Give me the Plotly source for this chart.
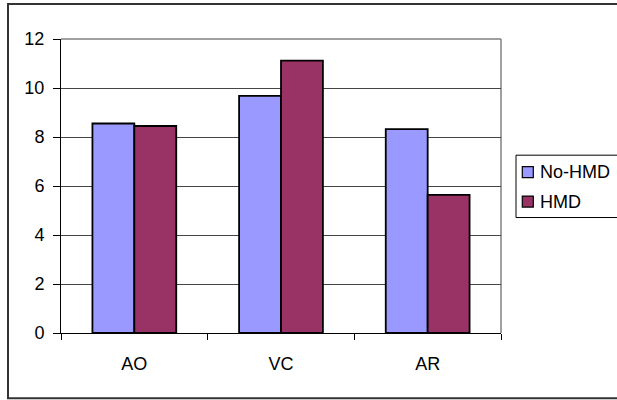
import plotly.graph_objects as go

# Data
categories = ["AO", "VC", "AR"]
series_names = ["No-HMD", "HMD"]
no_hmd = [8.55, 9.68, 8.32]
hmd = [8.45, 11.12, 5.64]
y_ticks = [0, 2, 4, 6, 8, 10, 12]

colors = ["#9999FF", "#993366"]
FONT = "Liberation Sans, Arial, sans-serif"

W, H = 617, 400
L, R, T, B = 61, 116, 39, 66.7
PW, PH = W - L - R, H - T - B


def px_x(px):
    return (px - L) / PW


def px_y(py):
    return (H - B - py) / PH


fig = go.Figure()
for name, vals, col in zip(series_names, [no_hmd, hmd], colors):
    fig.add_trace(go.Bar(
        x=categories, y=vals, name=name,
        marker=dict(color=col, line=dict(color="#000000", width=1.8)),
        showlegend=False,
    ))

shapes = []
# plot-area frame on the top and right sides
shapes.append(dict(type="line", xref="paper", yref="paper", x0=0, x1=1, y0=1, y1=1,
                   line=dict(color="#808080", width=1.5), layer="below"))
shapes.append(dict(type="line", xref="paper", yref="paper", x0=1, x1=1, y0=0, y1=1,
                   line=dict(color="#808080", width=1.5), layer="below"))
# outer chart border
shapes.append(dict(type="rect", xref="paper", yref="paper",
                   x0=px_x(8), x1=px_x(700), y0=px_y(4), y1=px_y(398.5),
                   line=dict(color="#333333", width=2), layer="below"))
# legend box
shapes.append(dict(type="rect", xref="paper", yref="paper",
                   x0=px_x(516), x1=px_x(700), y0=px_y(155.3), y1=px_y(217.7),
                   line=dict(color="#000000", width=1), layer="above"))

annotations = []
legend_rows = [(166.7, 171.7), (196.2, 201.7)]
for (sw_top, text_mid), name, col in zip(legend_rows, series_names, colors):
    shapes.append(dict(type="rect", xref="paper", yref="paper",
                       x0=px_x(522.3), x1=px_x(533.3), y0=px_y(sw_top), y1=px_y(sw_top + 11),
                       fillcolor=col, line=dict(color="#000000", width=1.2), layer="above"))
    annotations.append(dict(xref="paper", yref="paper", x=px_x(537.5), y=px_y(text_mid),
                            text=name, showarrow=False, xanchor="left", yanchor="middle",
                            font=dict(family=FONT, size=18, color="#000000")))

fig.update_layout(
    width=W, height=H,
    margin=dict(l=L, r=R, t=T, b=B),
    paper_bgcolor="#FFFFFF",
    plot_bgcolor="#FFFFFF",
    barmode="group",
    bargap=0.4286,
    bargroupgap=0,
    shapes=shapes,
    annotations=annotations,
    xaxis=dict(
        type="category",
        tickson="boundaries",
        ticks="outside", ticklen=6, tickcolor="#000000", tickwidth=1,
        showline=True, linecolor="#000000", linewidth=1,
        showgrid=False,
        ticklabelstandoff=14,
        tickfont=dict(family=FONT, size=18, color="#000000"),
    ),
    yaxis=dict(
        range=[0, 12],
        tickvals=y_ticks,
        ticks="outside", ticklen=7, tickcolor="#000000", tickwidth=1,
        showline=True, linecolor="#000000", linewidth=1,
        showgrid=True, gridcolor="#454545", gridwidth=1,
        zeroline=False,
        ticklabelstandoff=5,
        tickfont=dict(family=FONT, size=18, color="#000000"),
    ),
)

fig.write_html("out.html")
